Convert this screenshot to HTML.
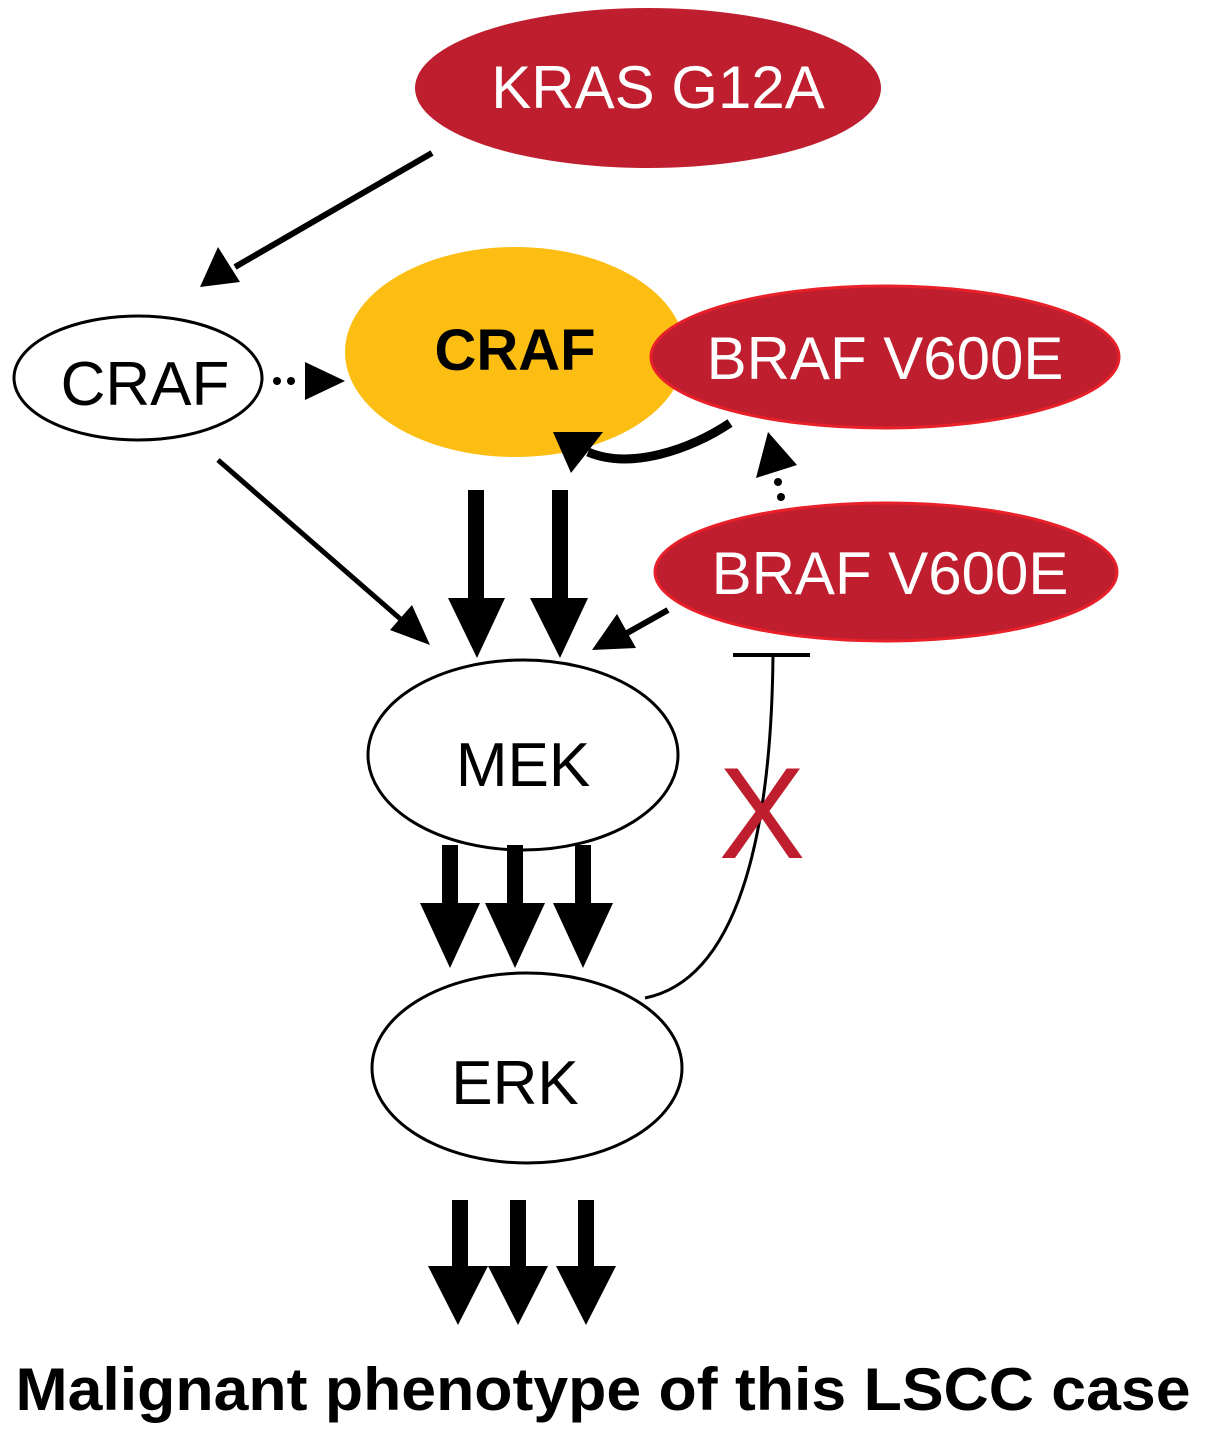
<!DOCTYPE html>
<html><head><meta charset="utf-8"><style>
html,body{margin:0;padding:0;background:#fff;}
svg{display:block;}
text{font-family:"Liberation Sans","DejaVu Sans",sans-serif;}
</style></head><body>
<svg width="1205" height="1435" viewBox="0 0 1205 1435" xmlns="http://www.w3.org/2000/svg">
<!-- Ellipses -->
<ellipse cx="648" cy="88" rx="233" ry="80" fill="#BE1E2D"/>
<text x="658" y="108" font-size="60" fill="#fff" text-anchor="middle">KRAS G12A</text>

<ellipse cx="138" cy="378" rx="124" ry="62" fill="#fff" stroke="#000" stroke-width="3"/>
<text x="145" y="405" font-size="62" fill="#000" text-anchor="middle">CRAF</text>

<ellipse cx="515" cy="352" rx="170" ry="105" fill="#FDBE14"/>
<text x="515" y="370" font-size="58" font-weight="bold" fill="#000" text-anchor="middle">CRAF</text>

<ellipse cx="885" cy="357" rx="234" ry="71" fill="#BE1E2D" stroke="#E8202A" stroke-width="3"/>
<text x="885" y="379" font-size="60" fill="#fff" text-anchor="middle">BRAF V600E</text>

<ellipse cx="886" cy="572" rx="231" ry="69" fill="#BE1E2D" stroke="#E8202A" stroke-width="3"/>
<text x="890" y="594" font-size="60" fill="#fff" text-anchor="middle">BRAF V600E</text>

<ellipse cx="523" cy="755" rx="155" ry="95" fill="#fff" stroke="#000" stroke-width="3"/>
<text x="523" y="786" font-size="62" fill="#000" text-anchor="middle">MEK</text>

<ellipse cx="527" cy="1068" rx="155" ry="95" fill="#fff" stroke="#000" stroke-width="3"/>
<text x="515" y="1104" font-size="62" fill="#000" text-anchor="middle">ERK</text>

<!-- KRAS -> CRAF -->
<line x1="432" y1="153" x2="235" y2="267" stroke="#000" stroke-width="6"/>
<polygon points="200,287 218,247 240,282" fill="#000"/>
<!-- dotted CRAF->CRAF -->
<circle cx="277" cy="381" r="4"/><circle cx="291" cy="381" r="4"/>
<polygon points="345,381 305,362 305,400" fill="#000"/>
<!-- CRAF -> MEK -->
<line x1="218" y1="460" x2="405" y2="623" stroke="#000" stroke-width="5"/>
<polygon points="430,645 390,630 412,605" fill="#000"/>
<!-- thick arrows CRAF->MEK -->
<rect x="468" y="490" width="16" height="110" fill="#000"/>
<polygon points="448,598 505,598 477,658" fill="#000"/>
<rect x="552" y="490" width="16" height="110" fill="#000"/>
<polygon points="530,598 588,598 560,658" fill="#000"/>
<!-- BRAF bottom -> MEK -->
<line x1="668" y1="610" x2="620" y2="637" stroke="#000" stroke-width="6"/>
<polygon points="592,650 617,614 636,648" fill="#000"/>
<!-- curved arrow BRAF -> CRAF -->
<path d="M730,423 C690,450 630,470 588,452" fill="none" stroke="#000" stroke-width="9"/>
<polygon points="571,473 553,432 603,432" fill="#000"/>
<!-- dotted BRAF -> BRAF -->
<circle cx="778" cy="482" r="4"/><circle cx="781" cy="497" r="4"/>
<polygon points="768,432 756,478 797,465" fill="#000"/>
<!-- MEK -> ERK -->
<rect x="442" y="845" width="16" height="60" fill="#000"/>
<polygon points="420,903 480,903 450,968" fill="#000"/>
<rect x="507" y="845" width="16" height="60" fill="#000"/>
<polygon points="485,903 545,903 515,968" fill="#000"/>
<rect x="575" y="845" width="16" height="60" fill="#000"/>
<polygon points="553,903 613,903 583,968" fill="#000"/>
<!-- ERK -> phenotype -->
<rect x="452" y="1200" width="16" height="68" fill="#000"/>
<polygon points="428,1266 488,1266 458,1325" fill="#000"/>
<rect x="510" y="1200" width="16" height="68" fill="#000"/>
<polygon points="488,1266 548,1266 518,1325" fill="#000"/>
<rect x="578" y="1200" width="16" height="68" fill="#000"/>
<polygon points="556,1266 616,1266 586,1325" fill="#000"/>
<!-- inhibition curve -->
<path d="M645,998 C760,975 772,760 773,655" fill="none" stroke="#000" stroke-width="3"/>
<line x1="733" y1="655" x2="810" y2="655" stroke="#000" stroke-width="4"/>
<!-- red X -->
<text x="762" y="858" font-size="130" fill="#BE1E2D" text-anchor="middle">X</text>
<!-- bottom label -->
<text x="603" y="1410" font-size="60" font-weight="bold" fill="#000" text-anchor="middle" textLength="1175" lengthAdjust="spacingAndGlyphs">Malignant phenotype of this LSCC case</text>
</svg>
</body></html>
